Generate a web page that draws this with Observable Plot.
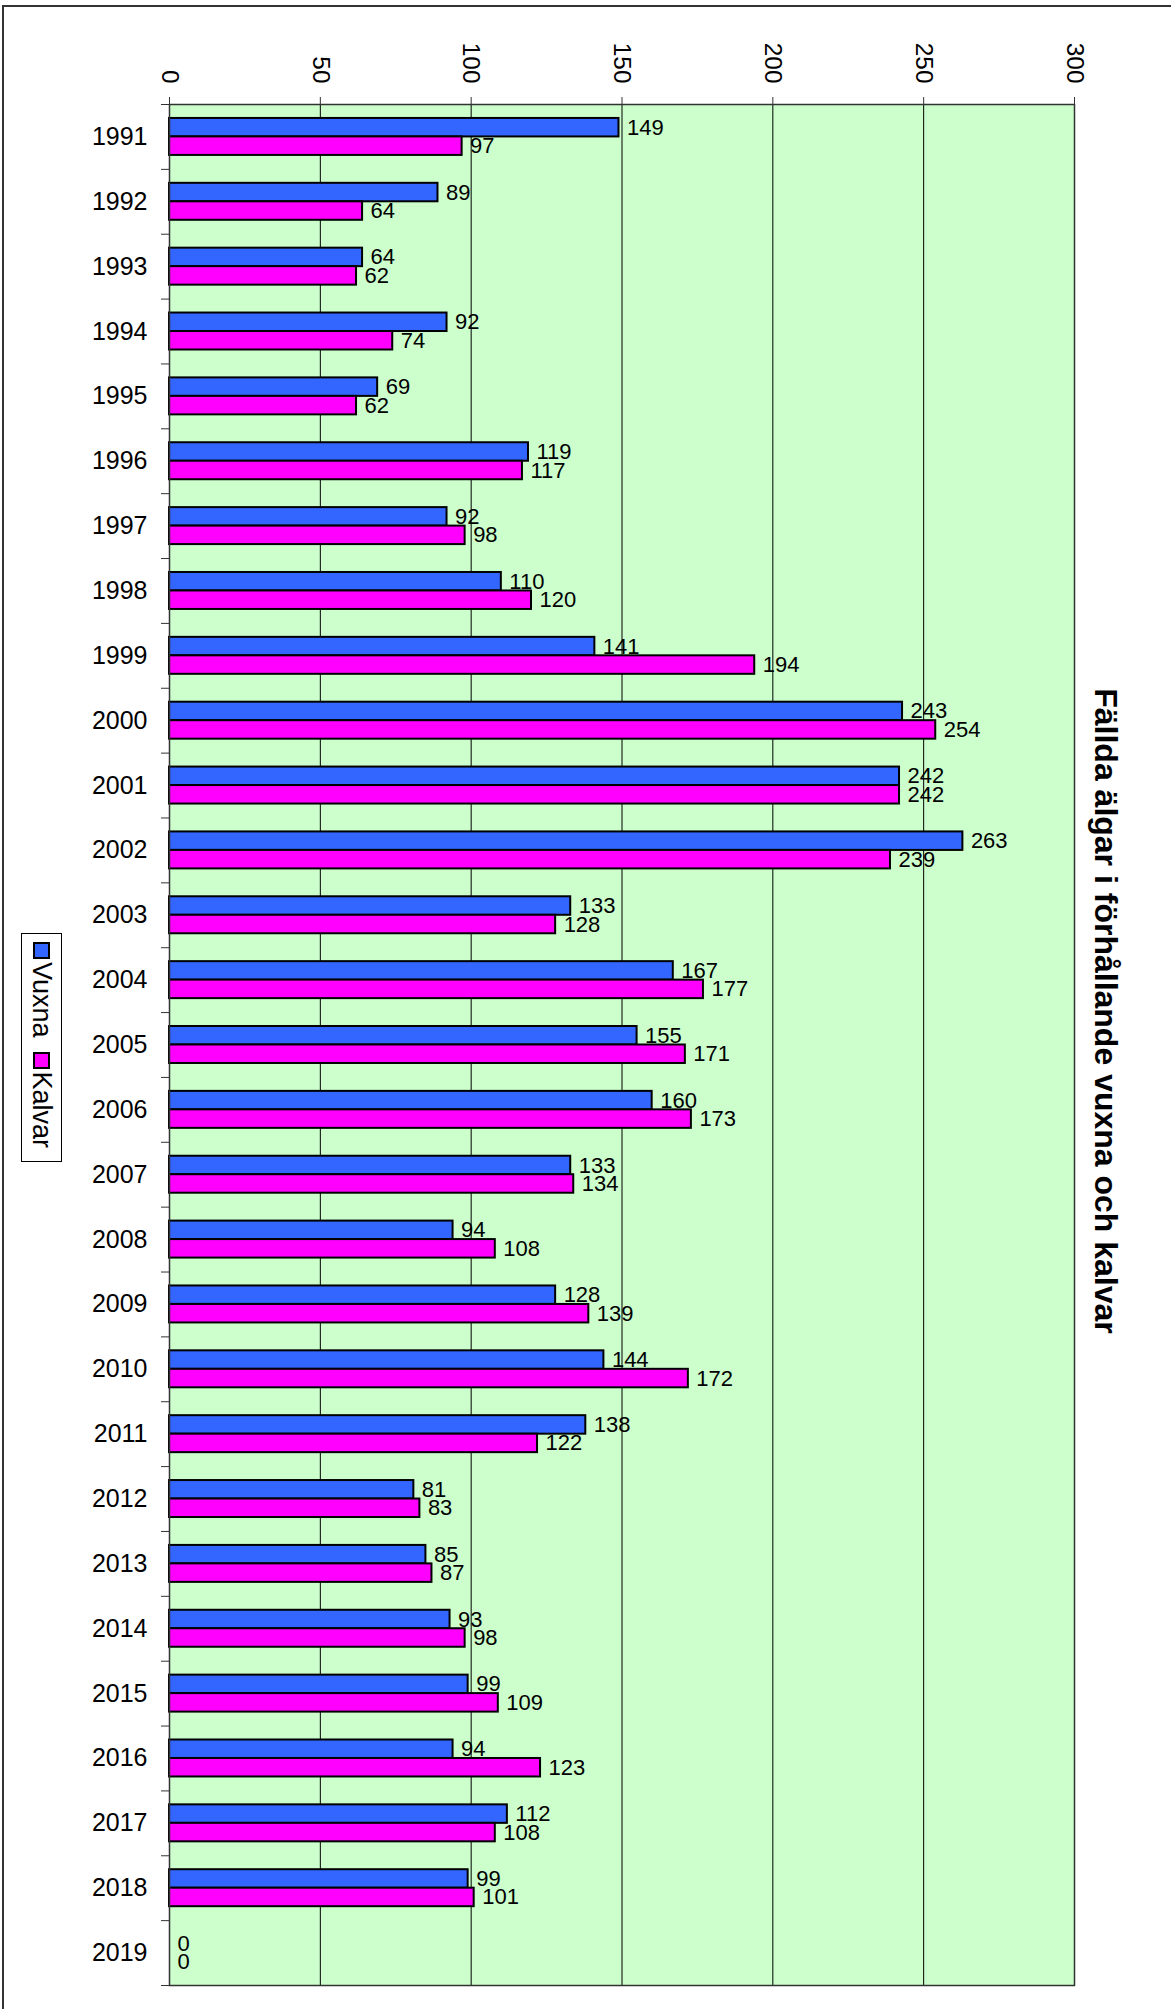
<!DOCTYPE html>
<html><head><meta charset="utf-8">
<script src="https://cdn.jsdelivr.net/npm/d3@7"></script>
<script src="https://cdn.jsdelivr.net/npm/@observablehq/plot@0.6"></script>
<style>
html,body{margin:0;padding:0;background:#fff;overflow:hidden;width:1171px;height:2009px;}
body{position:relative;font-family:"Liberation Sans",Arial,sans-serif;color:#000;}
#chart{position:absolute;left:0;top:0;}
#border{position:absolute;left:2px;top:5px;width:3000px;height:4000px;border:2px solid #333;pointer-events:none;}
#title{position:absolute;left:1106px;top:1011px;transform:translate(-50%,-50%) rotate(90deg);font-weight:bold;font-size:32px;white-space:nowrap;line-height:1.15;}
#legend{position:absolute;left:62px;top:933px;width:229px;height:41px;box-sizing:border-box;border:1px solid #000;transform-origin:0 0;transform:rotate(90deg);display:flex;align-items:center;padding-left:8px;font-size:27px;background:#fff;white-space:nowrap;}
#legend .sw{width:17px;height:17px;box-sizing:border-box;border:2px solid #000;margin-right:3px;flex:none;}
#legend .lt{margin-right:14px;line-height:1;}
</style></head>
<body>
<div id="chart"></div>
<div id="title"></div>
<div id="legend"></div>
<div id="border"></div>
<script>
const years = ["1991","1992","1993","1994","1995","1996","1997","1998","1999","2000","2001","2002","2003","2004","2005","2006","2007","2008","2009","2010","2011","2012","2013","2014","2015","2016","2017","2018","2019"];
const vuxna  = [149, 89, 64, 92, 69, 119, 92, 110, 141, 243, 242, 263, 133, 167, 155, 160, 133, 94, 128, 144, 138, 81, 85, 93, 99, 94, 112, 99, 0];
const kalvar = [97, 64, 62, 74, 62, 117, 98, 120, 194, 254, 242, 239, 128, 177, 171, 173, 134, 108, 139, 172, 122, 83, 87, 98, 109, 123, 108, 101, 0];
const seriesNames = ["Vuxna", "Kalvar"];
const seriesColors = ["#3366FF", "#FF00FF"];
const xTicks = [0, 50, 100, 150, 200, 250, 300];
const titleText = "Fällda älgar i förhållande vuxna och kalvar";

const W = 1171, H = 2009, mT = 104, mB = 24, mL = 169, mR = 97;
const padIn = 0.43, padOut = padIn / 2;
const step = (H - mT - mB) / (years.length - padIn + 2 * padOut);
const bw = step * (1 - padIn);

const rows = years.flatMap((y, i) => [
  {year: y, series: seriesNames[0], value: vuxna[i]},
  {year: y, series: seriesNames[1], value: kalvar[i]}
]);
const rowsV = rows.filter(d => d.series === seriesNames[0]);
const rowsK = rows.filter(d => d.series === seriesNames[1]);

const chart = Plot.plot({
  width: W, height: H,
  marginTop: mT, marginBottom: mB, marginLeft: mL, marginRight: mR,
  style: {background: "transparent", fontFamily: "'Liberation Sans', Arial, sans-serif", color: "#000"},
  x: {domain: [0, 300], label: null},
  y: {domain: years, type: "band", paddingInner: padIn, paddingOuter: padOut, round: false, label: null},
  marks: [
    Plot.frame({fill: "#CCFFCC", stroke: "none"}),
    Plot.ruleX(xTicks.slice(1, -1), {stroke: "#000", strokeWidth: 1}),
    Plot.barX(rowsV.filter(d => d.value > 0), {x: "value", y: "year", fill: seriesColors[0], stroke: "#000", strokeWidth: 2, insetBottom: bw / 2}),
    Plot.barX(rowsK.filter(d => d.value > 0), {x: "value", y: "year", fill: seriesColors[1], stroke: "#000", strokeWidth: 2, insetTop: bw / 2}),
    Plot.text(rowsV, {x: "value", y: "year", text: d => String(d.value), textAnchor: "start", dx: 8, dy: -bw / 4, fontSize: 22, fill: "#000"}),
    Plot.text(rowsK, {x: "value", y: "year", text: d => String(d.value), textAnchor: "start", dx: 8, dy: bw / 4, fontSize: 22, fill: "#000"}),
    Plot.frame({stroke: "#333", strokeWidth: 1.5}),
    Plot.axisX({anchor: "top", ticks: xTicks, tickSize: 8, tickFormat: () => "", label: null, stroke: "#333"}),
    Plot.text(xTicks, {x: d => d, frameAnchor: "top", rotate: 90, textAnchor: "end", lineAnchor: "middle", dy: -21, fontSize: 24.4, fill: "#000", ariaLabel: "xtick-labels"}),
    Plot.axisY({tickSize: 0, tickPadding: 22, fontSize: 25, label: null}),
    Plot.axisY({tickSize: 8, tickFormat: () => "", dy: step / 2, label: null, stroke: "#333"}),
    Plot.axisY({ticks: [years[0]], tickSize: 8, tickFormat: () => "", dy: -step / 2, label: null, stroke: "#333"})
  ]
});
document.getElementById("chart").appendChild(chart);
chart.querySelectorAll('g[aria-label="xtick-labels"] text').forEach(t => {
  t.setAttribute("transform", (t.getAttribute("transform") || "") + " scale(1,1.24)");
});

document.getElementById("title").textContent = titleText;
const leg = document.getElementById("legend");
seriesNames.forEach((n, i) => {
  const sw = document.createElement("span");
  sw.className = "sw";
  sw.style.background = seriesColors[i];
  const lt = document.createElement("span");
  lt.className = "lt";
  lt.textContent = n;
  leg.appendChild(sw);
  leg.appendChild(lt);
});
</script>
</body></html>
